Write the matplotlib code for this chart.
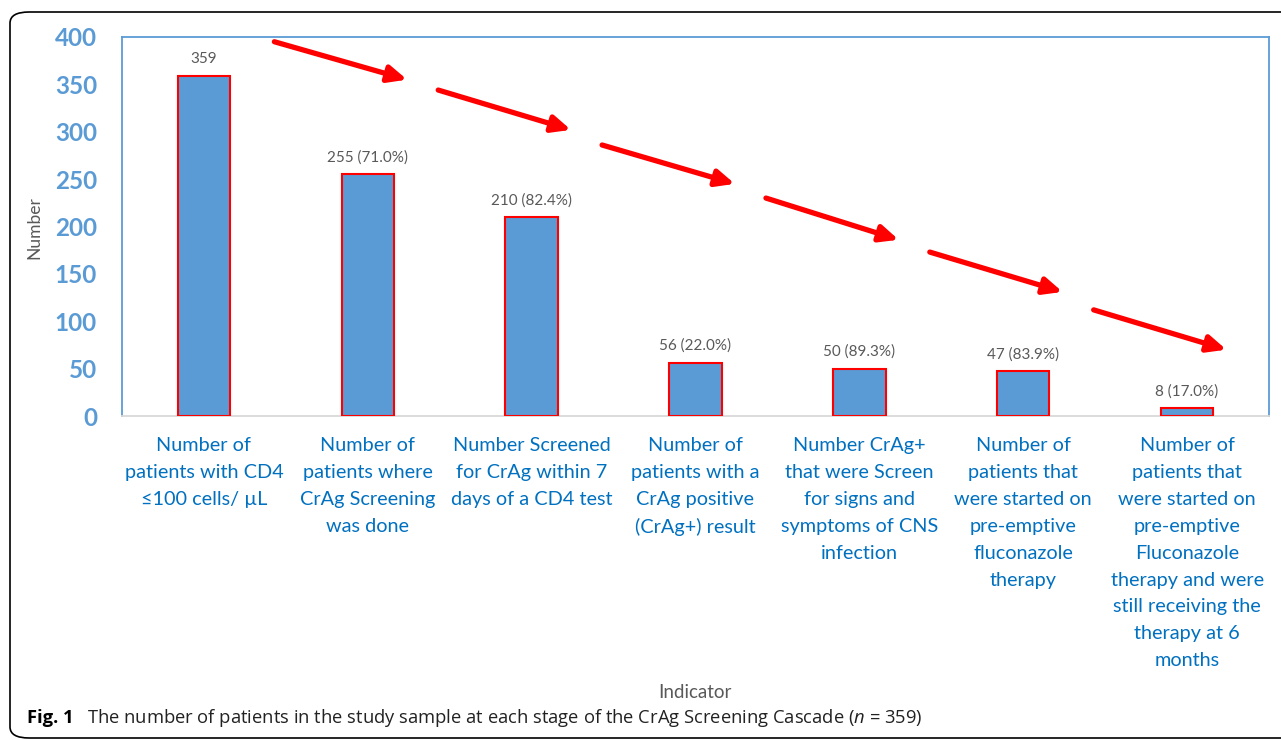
import matplotlib
matplotlib.use("Agg")
import matplotlib.pyplot as plt
from matplotlib.patches import FancyBboxPatch
import numpy as np

categories = [
    "Number of\npatients with CD4\n≤100 cells/ µL",
    "Number of\npatients where\nCrAg Screening\nwas done",
    "Number Screened\nfor CrAg within 7\ndays of a CD4 test",
    "Number of\npatients with a\nCrAg positive\n(CrAg+) result",
    "Number CrAg+\nthat were Screen\nfor signs and\nsymptoms of CNS\ninfection",
    "Number of\npatients that\nwere started on\npre-emptive\nfluconazole\ntherapy",
    "Number of\npatients that\nwere started on\npre-emptive\nFluconazole\ntherapy and were\nstill receiving the\ntherapy at 6\nmonths",
]
values = [359, 255, 210, 56, 50, 47, 8]
bar_labels = ["359", "255 (71.0%)", "210 (82.4%)", "56 (22.0%)", "50 (89.3%)", "47 (83.9%)", "8 (17.0%)"]
yticks = [0, 50, 100, 150, 200, 250, 300, 350, 400]
# decorative arrows: (start value, end value) between successive stages
arrow_y_start = [395, 344, 286, 230, 173, 112]
arrow_y_end = [355, 302, 245, 186, 131, 70]

BLUE = "#5B9BD5"
TICKBLUE = "#5B9BD5"
LABELBLUE = "#0070C0"
GRAY = "#595959"

plt.rcParams['font.family'] = ['Lato', 'DejaVu Sans']
plt.rcParams['mathtext.fontset'] = 'custom'
plt.rcParams['mathtext.it'] = 'Open Sans:italic'
plt.rcParams['mathtext.rm'] = 'Open Sans'

fig = plt.figure(figsize=(12.81, 7.40), dpi=100)
ax = fig.add_axes([122/1281, 1-416/740, (1269-122)/1281, (416-37)/740])

x = np.arange(len(values))
ax.bar(x, values, width=0.32, color=BLUE, edgecolor="#FF0000", linewidth=1.5, zorder=3)
for xi, v, lab in zip(x, values, bar_labels):
    ax.annotate(lab, (xi, v), xytext=(0, 7), textcoords="offset points",
                ha="center", va="bottom", fontsize=11, color=GRAY)

ax.set_xlim(-0.5, len(values) - 0.5)
ax.set_ylim(0, 400)
ax.set_yticks(yticks)
ax.set_yticklabels([str(t) for t in yticks], fontsize=17.5, fontweight="bold", color=TICKBLUE)
ax.set_xticks(x)
ax.set_xticklabels(categories, fontsize=14.3, color=LABELBLUE, va="top")
for lbl in ax.get_xticklabels():
    lbl.set_linespacing(1.71)
ax.tick_params(axis="both", length=0)
ax.tick_params(axis="y", pad=18)
ax.tick_params(axis="x", pad=15)

for side in ["left", "top", "right"]:
    ax.spines[side].set_color(BLUE)
    ax.spines[side].set_linewidth(1.3)
ax.spines["bottom"].set_color("#D9D9D9")
ax.spines["bottom"].set_linewidth(1.3)

ax.set_ylabel("Number", fontsize=12.5, color=GRAY)
ax.yaxis.set_label_coords(-0.0697, 0.496)

for i, (ys, ye) in enumerate(zip(arrow_y_start, arrow_y_end)):
    ax.annotate("", xy=(i + 1.24, ye), xytext=(i + 0.43, ys),
                arrowprops=dict(arrowstyle="-|>,head_length=1.1,head_width=0.5",
                                color="#FF0000", lw=3.8, shrinkA=0, shrinkB=0),
                annotation_clip=False, zorder=4)

fig.text(695/1281, 1-692/740, "Indicator", ha="center", va="center", fontsize=13.5, color=GRAY)

# caption
fig.text(27/1281, 1-718/740, "Fig. 1", ha="left", va="center", fontsize=13.2,
         fontweight="bold", color="black", family=["Open Sans", "DejaVu Sans"])
fig.text(87/1281, 1-718/740,
         "The number of patients in the study sample at each stage of the CrAg Screening Cascade ($\\mathit{n}$ = 359)",
         ha="left", va="center", fontsize=13.2, color="#222222", family=["Open Sans", "DejaVu Sans"])

# outer rounded frame
frame = FancyBboxPatch((10/1281, 2/740), 1.2, 1 - 12/740 - 2/740,
                       boxstyle="round,pad=0,rounding_size=0.015",
                       transform=fig.transFigure, fill=False, edgecolor="black",
                       linewidth=1.2, clip_on=False)
fig.patches.append(frame)

fig.savefig("out.png", dpi=100)
